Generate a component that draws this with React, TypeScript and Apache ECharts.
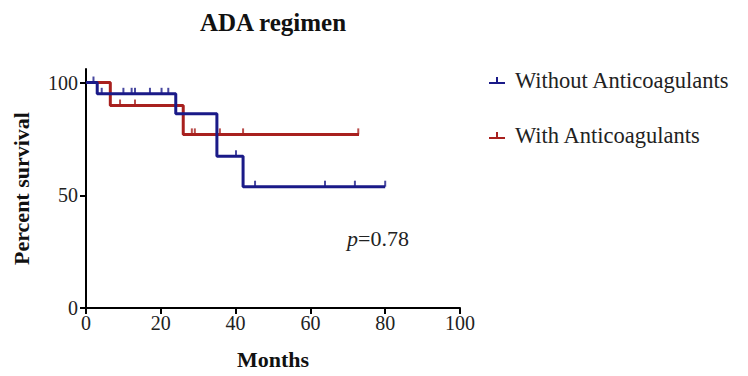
import React, { useEffect, useRef } from "react";
import * as echarts from "echarts";

const xTicks = [0, 20, 40, 60, 80, 100];
const yTicks = [0, 50, 100];

const withoutTimes = [0, 3, 24, 35, 42, 80];
const withoutSurv = [100, 95, 86.2, 67.3, 53.8, 53.8];
const withTimes = [0, 6.5, 26, 73];
const withSurv = [100, 89.8, 77, 77];

const withoutCensorTimes = [2, 4.2, 10, 12.2, 13.1, 17.1, 20.2, 22, 40.1, 45.2, 63.9, 71.9, 80];
const withoutCensorSurv = [100, 95, 95, 95, 95, 95, 95, 95, 67.3, 53.8, 53.8, 53.8, 53.8];
const withCensorTimes = [9.1, 13.1, 28.3, 29.1, 35.8, 42, 72.8];
const withCensorSurv = [89.8, 89.8, 77, 77, 77, 77, 77];

const BLUE = "#1a1a88";
const RED = "#a8201e";
const FONT = "'Liberation Serif', 'Times New Roman', serif";
const LEGEND_ICON = "path://M0,7 L16,7 L16,9 L0,9 Z M7,2 L9,2 L9,8 L7,8 Z";

const zip = (a: number[], b: number[]) => a.map((v, i) => [v, b[i]]);

export default function App() {
  const ref = useRef<HTMLDivElement>(null);
  useEffect(() => {
    if (!ref.current) return;
    const chart = echarts.init(ref.current, null, { renderer: "svg" });
    chart.setOption({
      animation: false,
      backgroundColor: "#ffffff",
      title: {
        text: "ADA regimen",
        left: 195,
        top: 5,
        textStyle: { fontFamily: FONT, fontWeight: "bold", fontSize: 25, color: "#111" },
      },
      legend: {
        orient: "vertical",
        left: 484,
        top: 64,
        itemGap: 32,
        itemWidth: 16,
        itemHeight: 16,
        icon: LEGEND_ICON,
        data: ["Without Anticoagulants", "With Anticoagulants"],
        textStyle: { fontFamily: FONT, fontSize: 22.5, color: "#222", padding: [0, 0, 0, 5] },
      },
      grid: { left: 86, right: 288, top: 69, bottom: 68 },
      xAxis: {
        type: "value",
        min: 0,
        max: 100,
        interval: 20,
        name: "Months",
        nameLocation: "middle",
        nameGap: 40,
        nameTextStyle: { fontFamily: FONT, fontWeight: "bold", fontSize: 22, color: "#111" },
        axisLine: { lineStyle: { color: "#000", width: 2 } },
        axisTick: { show: true, length: 6, lineStyle: { color: "#000", width: 2 } },
        axisLabel: {
          fontFamily: FONT,
          fontSize: 20,
          color: "#222",
          margin: 5,
          formatter: (v: number) => (xTicks.includes(v) ? String(v) : ""),
        },
        splitLine: { show: false },
      },
      yAxis: {
        type: "value",
        min: 0,
        max: 106,
        interval: 50,
        name: "Percent survival",
        nameLocation: "middle",
        nameGap: 54,
        nameRotate: 90,
        nameTextStyle: { fontFamily: FONT, fontWeight: "bold", fontSize: 22, color: "#111" },
        axisLine: { show: true, lineStyle: { color: "#000", width: 2 } },
        axisTick: { show: true, length: 6, lineStyle: { color: "#000", width: 2 } },
        axisLabel: {
          fontFamily: FONT,
          fontSize: 20,
          color: "#222",
          margin: 8,
          showMaxLabel: false,
          formatter: (v: number) => (yTicks.includes(v) ? String(v) : ""),
        },
        splitLine: { show: false },
      },
      graphic: [
        {
          type: "text",
          left: 347,
          top: 227,
          style: {
            text: "{i|p}=0.78",
            rich: {
              i: { fontFamily: FONT, fontStyle: "italic", fontSize: 22, fill: "#222" },
            },
            fontFamily: FONT,
            fontSize: 22,
            fill: "#222",
          },
        },
      ],
      series: [
        {
          name: "With Anticoagulants",
          type: "line",
          step: "end",
          data: zip(withTimes, withSurv),
          showSymbol: false,
          symbol: "none",
          color: RED,
          lineStyle: { color: RED, width: 3 },
          z: 2,
        },
        {
          name: "Without Anticoagulants",
          type: "line",
          step: "end",
          data: zip(withoutTimes, withoutSurv),
          showSymbol: false,
          symbol: "none",
          color: BLUE,
          lineStyle: { color: BLUE, width: 3 },
          z: 3,
        },
        {
          name: "withCensor",
          type: "scatter",
          data: zip(withCensorTimes, withCensorSurv),
          symbol: "rect",
          symbolSize: [2, 6],
          symbolOffset: [0, -3],
          itemStyle: { color: RED },
          z: 4,
        },
        {
          name: "withoutCensor",
          type: "scatter",
          data: zip(withoutCensorTimes, withoutCensorSurv),
          symbol: "rect",
          symbolSize: [2, 6],
          symbolOffset: [0, -3],
          itemStyle: { color: BLUE },
          z: 5,
        },
      ],
    });
    return () => chart.dispose();
  }, []);
  return <div ref={ref} style={{ width: 748, height: 376, margin: -8 }} />;
}
